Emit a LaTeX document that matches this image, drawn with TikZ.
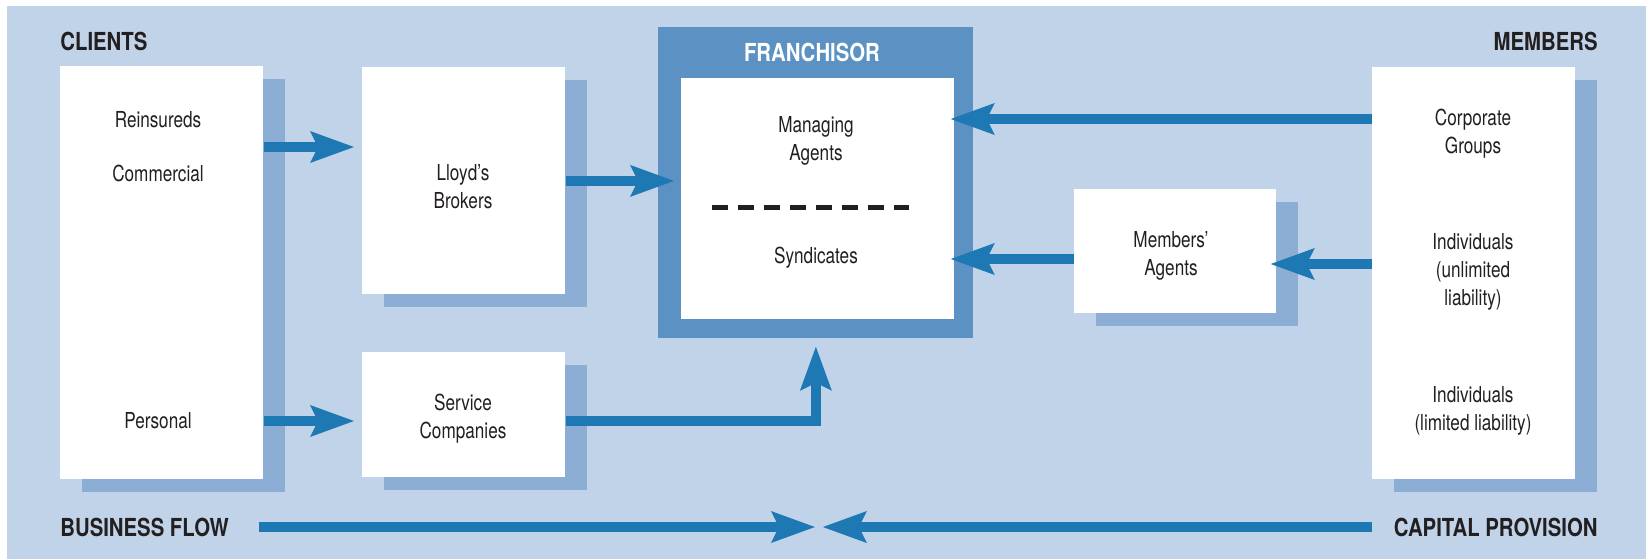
\documentclass[tikz,border=0pt]{standalone}
\usepackage{fontspec}
\setmainfont{TeX Gyre Heros}[FakeStretch=0.78]
\newfontfamily\headfont{TeX Gyre Heros}[FakeStretch=0.82]
\usetikzlibrary{arrows.meta,shadows}

\definecolor{bgblue}{HTML}{C0D3E8}
\definecolor{shadeblue}{HTML}{8CAED4}
\definecolor{franchblue}{HTML}{5B91C3}
\definecolor{flowblue}{HTML}{1E78B4}
\definecolor{inkdark}{HTML}{231F20}

\tikzset{
  panel/.style={fill=white, inner sep=0pt, anchor=north west,
    drop shadow={shadow xshift=11pt, shadow yshift=-6.5pt, fill=shadeblue, opacity=1}},
  entry/.style={text=inkdark, align=center, inner sep=0pt, font=\fontsize{11}{13.9}\selectfont},
  heading/.style={text=inkdark, inner sep=0pt, font=\headfont\bfseries\fontsize{12.4}{14}\selectfont},
  flow/.style={draw=flowblue, line width=5pt,
    -{Stealth[length=22pt, width=16pt, inset=4pt, line width=0pt]}},
  sepline/.style={draw=inkdark, line width=2.5pt, dash pattern=on 7.8pt off 5.2pt}
}

\begin{document}
\begin{tikzpicture}[x=0.5pt, y=-0.5pt]
  \useasboundingbox (0,0) rectangle (1646,559);
  \fill[bgblue] (7,6) rectangle (1646,559);

  \node[panel, minimum width=101.5pt, minimum height=206.5pt] (clients) at (60,66) {};
  \node[panel, minimum width=101.5pt, minimum height=113.5pt] (brokers) at (362,67) {};
  \node[panel, minimum width=101.5pt, minimum height=62.5pt] (service) at (362,352) {};
  \node[panel, minimum width=101pt, minimum height=62pt] (magents) at (1074,189) {};
  \node[panel, minimum width=101.5pt, minimum height=206pt] (members) at (1372,67) {};
  \node[fill=franchblue, inner sep=0pt, anchor=north west,
    minimum width=157.5pt, minimum height=155.5pt] (franch) at (658,27) {};
  \node[fill=white, inner sep=0pt, anchor=north west,
    minimum width=136.5pt, minimum height=120.5pt] (inner) at (681,78) {};

  \node[heading, anchor=west] (clientshd) at (60,41) {CLIENTS};
  \node[heading, anchor=east] (membershd) at (1598,41) {MEMBERS};
  \node[heading, text=white] (franchhd) at (812,52) {FRANCHISOR};
  \node[heading, anchor=west] (bflow) at (60,527) {BUSINESS FLOW};
  \node[heading, anchor=east] (capital) at (1598,527) {CAPITAL PROVISION};

  \node[entry] (reins) at (158,120) {Reinsureds};
  \node[entry] (comm) at (158,173) {Commercial};
  \node[entry] (pers) at (158,421) {Personal};
  \node[entry] (brokerstx) at (463,187) {Lloyd's\\Brokers};
  \node[entry] (servicetx) at (463,419) {Service\\Companies};
  \node[entry] (managing) at (816,141) {Managing\\Agents};
  \node[entry] (syn) at (816,258) {Syndicates};
  \node[entry] (magentstx) at (1171,256) {Members'\\Agents};
  \node[entry] (corp) at (1473,134) {Corporate\\Groups};
  \node[entry] (unlim) at (1473,272) {Individuals\\(unlimited\\liability)};
  \node[entry] (lim) at (1473,411) {Individuals\\(limited liability)};

  \draw[sepline] (712,207) -- (909,207);

  \coordinate (rowA) at (0,147);
  \coordinate (rowB) at (0,119);
  \coordinate (rowC) at (0,264);
  \coordinate (rowD) at (0,259);
  \coordinate (meet) at ([xshift=1.5pt]franch.south |- bflow);

  \draw[flow, shorten >=4pt] (clients.east |- rowA) -- (brokers.west |- rowA);
  \draw[flow, shorten >=3.5pt] (brokers.east) -- (brokers.east -| inner.west);
  \draw[flow, shorten >=4pt] (clients.east |- pers) -- (service.west |- pers);
  \draw[flow, shorten >=4pt] (service.east |- pers) -| (franch.south);
  \draw[flow, shorten >=-2pt] (members.west |- rowB) -- (inner.east |- rowB);
  \draw[flow, shorten >=-2pt] (magents.west |- rowD) -- (inner.east |- rowD);
  \draw[flow, shorten >=-3pt] (members.west |- rowC) -- (magents.east |- rowC);
  \draw[flow, shorten <=15pt, shorten >=2pt] (bflow.east) -- (meet);
  \draw[flow, shorten >=2pt] (members.west |- meet) -- (meet);
\end{tikzpicture}
\end{document}
